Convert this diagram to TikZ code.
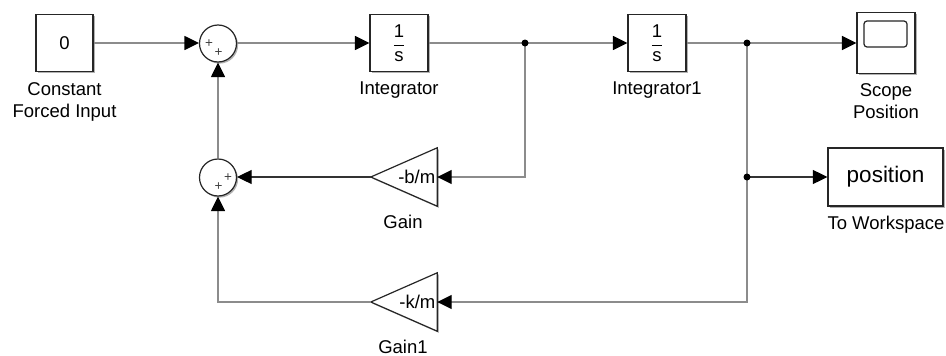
\documentclass[tikz,border=0pt]{standalone}
\usepackage{fontspec}
\setmainfont{Liberation Sans}
\usepackage{amsmath}
\usetikzlibrary{arrows.meta,shadows}
\begin{document}
\begin{tikzpicture}[x=1pt,y=-1pt,
  shad/.style={general shadow={fill=black!30, shadow xshift=1.6pt, shadow yshift=-1.6pt}},
  blk/.style={draw=black!85, line width=1.2pt, fill=white, inner sep=0pt, shad,
    font=\fontsize{18.5}{22}\selectfont},
  sumc/.style={circle, draw=black!85, line width=1.2pt, fill=white, minimum size=37pt, inner sep=0pt, shad},
  sgn/.style={font=\fontsize{13.5}{13.5}\selectfont, inner sep=0pt, text=black!75},
  gainsp/.style={minimum width=66pt, minimum height=58pt, inner sep=0pt},
  tri/.style={draw=black!85, line width=1.2pt, fill=white},
  gtxt/.style={anchor=east, inner sep=0pt, font=\fontsize{18.5}{22}\selectfont},
  lbl/.style={anchor=north, inner sep=0pt, align=center, font=\fontsize{18.5}{22}\selectfont},
  wire/.style={draw=black!45, line width=1.3pt},
  wired/.style={draw=black!80, line width=1.1pt},
  tip/.style={-{Triangle[length=14.5pt,width=14pt,color=black]}},
  dot/.style={fill=black}
]
\useasboundingbox (0,0) rectangle (946,356);

% blocks
\node[blk, minimum width=57pt, minimum height=57pt] (const) at (64.5,43) {0};
\node[sumc] (sum1) at (218,43.5) {};
\node[sgn] (s1a) at (209,43.5) {+};
\node[sgn] (s1b) at (218.5,53) {+};
\node[blk, minimum width=58pt, minimum height=57pt] (int1) at (399,43) {$\dfrac{\text{1}}{\text{s}}$};
\node[blk, minimum width=58pt, minimum height=57pt] (int2) at (657,43) {$\dfrac{\text{1}}{\text{s}}$};
\node[blk, minimum width=58pt, minimum height=61pt] (scope) at (886,43) {};
\node[draw=black!85, line width=1.2pt, rounded corners=3pt, minimum width=43pt, minimum height=26pt, inner sep=0pt] (screen) at (885.5,34) {};
\node[blk, minimum width=115pt, minimum height=58pt, font=\fontsize{22.5}{26}\selectfont] (ws) at (885.5,177) {position};

\node[sumc] (sum2) at (218,177.5) {};
\node[sgn] (s2a) at (228,177.5) {+};
\node[sgn] (s2b) at (218.5,187) {+};

\node[gainsp] (gain) at (404,177) {};
\fill[black!30] ([shift={(1.6,1.6)}]gain.north east) -- ([shift={(1.6,1.6)}]gain.south east) -- ([shift={(1.6,1.6)}]gain.west) -- cycle;
\draw[tri] (gain.north east) -- (gain.south east) -- (gain.west) -- cycle;
\node[gtxt] (gaint) at (435.5,177) {-b/m};

\node[gainsp] (gain1) at (404,302) {};
\fill[black!30] ([shift={(1.6,1.6)}]gain1.north east) -- ([shift={(1.6,1.6)}]gain1.south east) -- ([shift={(1.6,1.6)}]gain1.west) -- cycle;
\draw[tri] (gain1.north east) -- (gain1.south east) -- (gain1.west) -- cycle;
\node[gtxt] (gain1t) at (435.5,302) {-k/m};

% labels
\node[lbl] (constl) at (64.5,82.5) {Constant\\Forced Input};
\node[lbl] (int1l) at (399,81.5) {Integrator};
\node[lbl] (int2l) at (657,81.5) {Integrator1};
\node[lbl] (scopel) at (886,83.5) {Scope\\Position};
\node[lbl] (gainl) at (403,214.5) {Gain};
\node[lbl] (gain1l) at (403,339.5) {Gain1};
\node[lbl] (wsl) at (886,215.5) {To Workspace};

% junctions
\coordinate (j1) at (525,43);
\coordinate (j2) at (747,43);
\coordinate (j3) at (747,177);

% connectors
\draw[wire,tip] (const.east) -- (sum1.west |- const.east);
\draw[wire,tip] (sum1.east |- int1.west) -- (int1.west);
\draw[wire] (int1.east) -- (j1);
\draw[wire,tip] (j1) -- (int2.west);
\draw[wire] (int2.east) -- (j2);
\draw[wire,tip] (j2) -- (scope.west);
\draw[wire,tip] (j1) |- (gain.east);
\draw[wired,tip] (gain.west) -- (sum2.east |- gain.west);
\draw[wire,tip] (sum2.north) -- (sum1.south);
\draw[wire,tip] (j2) |- (gain1.east);
\draw[wired,tip] (j3) -- (ws.west);
\draw[wire,tip] (gain1.west) -| (sum2.south);

\fill[dot] (j1) circle (3.5pt);
\fill[dot] (j2) circle (3.5pt);
\fill[dot] (j3) circle (3.5pt);
\end{tikzpicture}
\end{document}
